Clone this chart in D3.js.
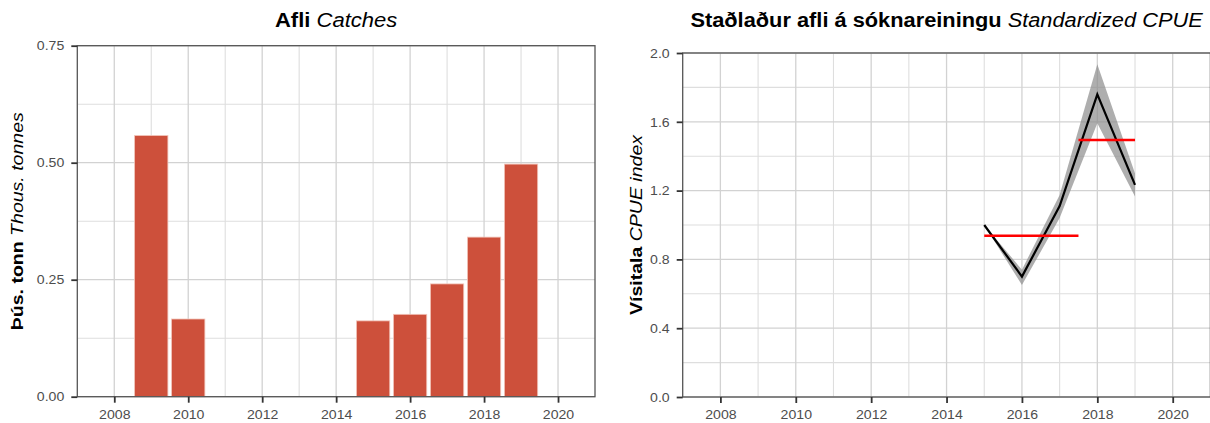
<!DOCTYPE html>
<html>
<head>
<meta charset="utf-8">
<script src="https://cdn.jsdelivr.net/npm/d3@7"></script>
<style>
  html, body { margin: 0; padding: 0; background: #fff; }
  svg { display: block; font-family: "Liberation Sans", Arial, Helvetica, sans-serif; }
</style>
</head>
<body>
<svg id="chart" width="1210" height="423"></svg>
<script>
// ---------- data ----------
const catchYears = [2009, 2010, 2015, 2016, 2017, 2018, 2019];
const catchValues = [0.558, 0.166, 0.162, 0.176, 0.241, 0.341, 0.497];

const cpueYears = [2015, 2016, 2017, 2018, 2019];
const cpueValues = [1.0, 0.70, 1.11, 1.76, 1.233];
const cpueLower = [1.0, 0.651, 1.04, 1.591, 1.165];
const cpueUpper = [1.0, 0.74, 1.175, 1.934, 1.30];

const meanStart = [2015, 2017.5];
const meanEnd = [2017.5, 2019];
const meanValues = [0.938, 1.494];

const xTickLabels = [2008, 2010, 2012, 2014, 2016, 2018, 2020];
const xMinorTicks = [2009, 2011, 2013, 2015, 2017, 2019];
const catchTicks = [0, 0.25, 0.5, 0.75];
const catchMinor = [0.125, 0.375, 0.625];
const cpueTicks = [0, 0.4, 0.8, 1.2, 1.6, 2.0];
const cpueMinor = [0.2, 0.6, 1.0, 1.4, 1.8];

// ---------- drawing ----------
const svg = d3.select("#chart");
const TICK_COLOR = "#4d4d4d";
const BORDER = "#555";
const SX = 1.13;   // the original font is wider than Liberation Sans
const TSX = 1.07;  // same, for tick labels

function panel(opts) {
  const g = svg.append("g");
  const x = d3.scaleLinear().domain([2007, 2021]).range([opts.left, opts.right]);
  const y = d3.scaleLinear().domain(opts.yDomain).range([opts.bottom, opts.top]);

  // minor grid
  g.append("g").selectAll("line").data(xMinorTicks).join("line")
    .attr("x1", d => x(d)).attr("x2", d => x(d))
    .attr("y1", opts.top).attr("y2", opts.bottom)
    .attr("stroke", "#dedede").attr("stroke-width", 1.1);
  g.append("g").selectAll("line").data(opts.yMinor).join("line")
    .attr("x1", opts.left).attr("x2", opts.right)
    .attr("y1", d => y(d)).attr("y2", d => y(d))
    .attr("stroke", "#dedede").attr("stroke-width", 1.1);
  // major grid
  g.append("g").selectAll("line").data(xTickLabels).join("line")
    .attr("x1", d => x(d)).attr("x2", d => x(d))
    .attr("y1", opts.top).attr("y2", opts.bottom)
    .attr("stroke", "#d2d2d2").attr("stroke-width", 1.3);
  g.append("g").selectAll("line").data(opts.yTicks).join("line")
    .attr("x1", opts.left).attr("x2", opts.right)
    .attr("y1", d => y(d)).attr("y2", d => y(d))
    .attr("stroke", "#d2d2d2").attr("stroke-width", 1.3);

  opts.draw(g, x, y);

  // border
  g.append("rect")
    .attr("x", opts.left).attr("y", opts.top)
    .attr("width", opts.right - opts.left).attr("height", opts.bottom - opts.top)
    .attr("fill", "none").attr("stroke", BORDER).attr("stroke-width", 1.3);

  // axes
  const xAxis = g.append("g").attr("transform", `translate(0,${opts.bottom})`)
    .call(d3.axisBottom(x).tickValues(xTickLabels).tickFormat(d3.format("d")).tickSize(6).tickPadding(7));
  const yAxis = g.append("g").attr("transform", `translate(${opts.left},0)`)
    .call(d3.axisLeft(y).tickValues(opts.yTicks).tickFormat(opts.yFormat).tickSize(6).tickPadding(7));
  [xAxis, yAxis].forEach(a => {
    a.select(".domain").remove();
    a.selectAll(".tick line").attr("stroke", "#333").attr("stroke-width", 1.8);
    a.selectAll(".tick text").attr("fill", TICK_COLOR)
      .style("font-size", "13.2px").style("font-family", "'Liberation Sans', Arial, sans-serif");
  });
  xAxis.selectAll(".tick text").attr("transform", `scale(${TSX},1)`);
  yAxis.selectAll(".tick text").attr("x", -13 / TSX).attr("transform", `scale(${TSX},1)`);

  // title
  const t = g.append("text")
    .attr("transform", `translate(${(opts.left + opts.titleRight) / 2},27) scale(${SX},1)`)
    .attr("text-anchor", "middle").style("font-size", opts.titleSize).attr("fill", "#000");
  t.append("tspan").style("font-weight", "bold").text(opts.titleBold + " ");
  t.append("tspan").style("font-style", "italic").text(opts.titleItalic);

  // y title (stretched along its own direction)
  const yt = g.append("text")
    .attr("transform", `translate(${opts.yTitleX},${(opts.top + opts.bottom) / 2}) rotate(-90) scale(1.148,1)`)
    .attr("text-anchor", "middle").style("font-size", "17px").attr("fill", "#000");
  yt.append("tspan").style("font-weight", "bold").text(opts.yBold + " ");
  yt.append("tspan").style("font-style", "italic").text(opts.yItalic);
}

// Left panel: catches
panel({
  left: 77.3, right: 595, top: 45.7, bottom: 396.7, titleRight: 595, titleSize: "19.5px",
  yDomain: [0, 0.75], yTicks: catchTicks, yMinor: catchMinor, yFormat: d3.format(".2f"),
  titleBold: "Afli", titleItalic: "Catches",
  yBold: "Þús. tonn", yItalic: "Thous. tonnes", yTitleX: 23,
  draw: (g, x, y) => {
    g.append("g").selectAll("rect").data(catchYears).join("rect")
      .attr("x", (d) => x(d - 0.45))
      .attr("width", (d) => x(d + 0.45) - x(d - 0.45))
      .attr("y", (d, i) => y(catchValues[i]))
      .attr("height", (d, i) => y(0) - y(catchValues[i]))
      .attr("fill", "#cd503b")
      .attr("stroke", "#f2c4b9").attr("stroke-width", 0.8);
  }
});

// Right panel: standardized CPUE
panel({
  left: 682.7, right: 1210.4, top: 53, bottom: 397, titleRight: 1210.4, titleSize: "19.3px",
  yDomain: [0, 2.0], yTicks: cpueTicks, yMinor: cpueMinor, yFormat: d3.format(".1f"),
  titleBold: "Staðlaður afli á sóknareiningu", titleItalic: "Standardized CPUE",
  yBold: "Vísitala", yItalic: "CPUE index", yTitleX: 642,
  draw: (g, x, y) => {
    const idx = d3.range(cpueYears.length);
    g.append("path").datum(idx)
      .attr("d", d3.area().x(i => x(cpueYears[i])).y0(i => y(cpueLower[i])).y1(i => y(cpueUpper[i])))
      .attr("fill", "#8c8c8c").attr("fill-opacity", 0.7);
    g.append("path").datum(idx)
      .attr("d", d3.line().x(i => x(cpueYears[i])).y(i => y(cpueValues[i])))
      .attr("fill", "none").attr("stroke", "#000").attr("stroke-width", 2.2);
    g.append("g").selectAll("line").data(meanValues).join("line")
      .attr("x1", (d, i) => x(meanStart[i])).attr("x2", (d, i) => x(meanEnd[i]))
      .attr("y1", d => y(d)).attr("y2", d => y(d))
      .attr("stroke", "#ff0000").attr("stroke-width", 2.5);
  }
});
</script>
</body>
</html>
